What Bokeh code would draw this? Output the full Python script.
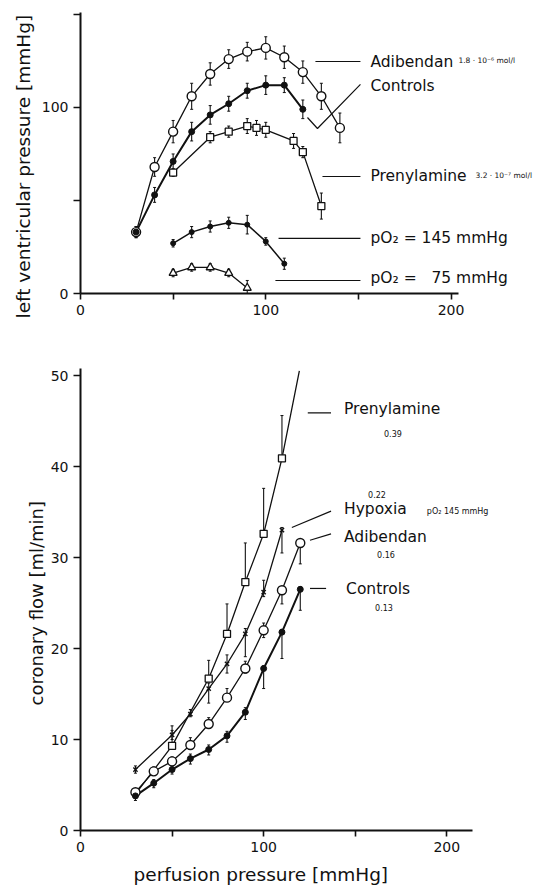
from bokeh.plotting import figure
from bokeh.layouts import column
from bokeh.models import Range1d, FixedTicker, Whisker, ColumnDataSource, TeeHead, Title
from bokeh.core.properties import value
from bokeh.embed import file_html
from bokeh.resources import INLINE

# ---------------- upper panel: left ventricular pressure ----------------
lvp_adib_x = [30, 40, 50, 60, 70, 80, 90, 100, 110, 120, 130, 140]
lvp_adib = [33, 68, 87, 106, 118, 126, 130, 132, 127, 119, 106, 89]
lvp_adib_err = [3, 5, 6, 7, 6, 5, 5, 6, 6, 6, 7, 8]

lvp_ctrl_x = [30, 40, 50, 60, 70, 80, 90, 100, 110, 120]
lvp_ctrl = [33, 53, 71, 87, 96, 102, 109, 112, 112, 99]
lvp_ctrl_err = [3, 4, 4, 5, 5, 4, 4, 5, 4, 5]

lvp_pren_x = [50, 70, 80, 90, 95, 100, 115, 120, 130]
lvp_pren = [65, 84, 87, 90, 89, 88, 82, 76, 47]
lvp_pren_err = [2, 3, 3, 4, 4, 4, 4, 3, 7]

lvp_po145_x = [50, 60, 70, 80, 90, 100, 110]
lvp_po145 = [27, 33, 36, 38, 37, 28, 16]
lvp_po145_err = [2, 3, 3, 3, 5, 2, 3]

lvp_po75_x = [50, 60, 70, 80, 90]
lvp_po75 = [11, 14, 14, 11, 3]
lvp_po75_err = [2, 2, 2, 2, 4]

# ---------------- lower panel: coronary flow ----------------
cf_ctrl_x = [30, 40, 50, 60, 70, 80, 90, 100, 110, 120]
cf_ctrl = [3.8, 5.2, 6.7, 7.9, 8.9, 10.4, 13.0, 17.8, 21.8, 26.5]
cf_ctrl_lo = [0.5, 0.5, 0.5, 0.6, 0.6, 0.7, 0.8, 2.2, 2.9, 2.3]
cf_ctrl_hi = [0.5, 0.4, 0.4, 0.5, 0.5, 0.5, 0.5, 0.3, 0.3, 0.3]

cf_adib_x = [30, 40, 50, 60, 70, 80, 90, 100, 110, 120]
cf_adib = [4.2, 6.5, 7.6, 9.4, 11.7, 14.6, 17.8, 22.0, 26.4, 31.6]
cf_adib_lo = [0.4, 0.3, 0.3, 0.3, 0.3, 0.3, 0.5, 0.8, 1.5, 2.3]
cf_adib_hi = [0.4, 0.5, 0.5, 0.8, 0.7, 1.0, 0.8, 0.8, 0.3, 0.3]

cf_pren_x = [50, 70, 80, 90, 100, 110]
cf_pren = [9.3, 16.7, 21.6, 27.3, 32.6, 40.9]
cf_pren_hi = [2.2, 2.0, 3.3, 4.3, 5.0, 4.7]
# fitted curve runs from the common starting point and on above the last measured point
cf_pren_curve_x = [30, 50, 70, 80, 90, 100, 110, 119.5]
cf_pren_curve = [4.0, 9.3, 16.7, 21.6, 27.3, 32.6, 40.9, 50.5]

cf_hyp_x = [30, 50, 60, 70, 80, 90, 100, 110]
cf_hyp = [6.7, 10.5, 12.8, 15.6, 18.3, 21.6, 26.2, 33.0]
cf_hyp_lo = [0.4, 0.5, 0.3, 1.6, 1.0, 2.5, 0.5, 2.5]
cf_hyp_hi = [0.4, 0.5, 0.5, 0.6, 1.0, 0.6, 1.3, 0.3]

x_ticks = [0, 50, 100, 150, 200]
x_tick_labels = {0: "0", 50: "", 100: "100", 150: "", 200: "200"}
lvp_ticks = [0, 50, 100, 150]
lvp_tick_labels = {0: "0", 50: "", 100: "100", 150: ""}
cf_ticks = [0, 10, 20, 30, 40, 50]

FONT = "DejaVu Sans"
FONT_V = value(FONT)
INK = "#111111"


def style_axes(p, xbounds, ybounds):
    for ax in (p.xaxis[0], p.yaxis[0]):
        ax.axis_line_width = 2
        ax.axis_line_color = INK
        ax.major_tick_line_width = 1.6
        ax.major_tick_line_color = INK
        ax.minor_tick_line_color = None
        ax.major_tick_in = 0
        ax.major_label_text_font = FONT
        ax.major_label_text_font_size = "14px"
        ax.major_label_text_color = INK
    p.xaxis[0].bounds = xbounds
    p.yaxis[0].bounds = ybounds
    p.xaxis[0].major_tick_out = 6
    p.yaxis[0].major_tick_out = 7
    p.xgrid.visible = False
    p.ygrid.visible = False
    p.outline_line_color = None
    p.background_fill_color = "white"
    p.border_fill_color = "white"


def axis_title(p, s, side, size, offset, standoff):
    # axis captions set as side titles so they can be slid along the axis
    p.add_layout(Title(text=s, align="left", offset=offset, standoff=standoff,
                       text_font=FONT, text_font_size=size, text_font_style="normal",
                       text_color=INK), side)


def errbars(p, xs, ys, lo, hi):
    src = ColumnDataSource(dict(x=xs, lower=[y - a for y, a in zip(ys, lo)],
                                upper=[y + b for y, b in zip(ys, hi)]))
    p.add_layout(Whisker(source=src, base="x", lower="lower", upper="upper",
                         line_color=INK, line_width=1.1,
                         lower_head=TeeHead(size=3, line_color=INK, line_width=1),
                         upper_head=TeeHead(size=3, line_color=INK, line_width=1)))


def text(p, x, y, s, size="15.5px", align="left"):
    p.text(x=[x], y=[y], text=[s], text_font=FONT_V, text_font_size=size,
           text_color=INK, text_align=align, text_baseline="middle")


# ---------- upper figure ----------
p1 = figure(width=558, height=330, x_range=Range1d(0, 258), y_range=Range1d(0, 154.8),
            output_backend="svg", toolbar_location=None,
            min_border_left=80, min_border_right=0, min_border_top=5, min_border_bottom=37)
p1.xaxis.ticker = FixedTicker(ticks=x_ticks)
p1.xaxis.major_label_overrides = x_tick_labels
p1.yaxis.ticker = FixedTicker(ticks=lvp_ticks)
p1.yaxis.major_label_overrides = lvp_tick_labels
style_axes(p1, (0, 204), (0, 151))
axis_title(p1, "left ventricular pressure [mmHg]", "left", "18.5px", -25, 9)

errbars(p1, lvp_adib_x, lvp_adib, lvp_adib_err, lvp_adib_err)
errbars(p1, lvp_ctrl_x, lvp_ctrl, lvp_ctrl_err, lvp_ctrl_err)
errbars(p1, lvp_pren_x, lvp_pren, lvp_pren_err, lvp_pren_err)
errbars(p1, lvp_po145_x, lvp_po145, lvp_po145_err, lvp_po145_err)
errbars(p1, lvp_po75_x, lvp_po75, lvp_po75_err, lvp_po75_err)

p1.line(lvp_adib_x, lvp_adib, line_color=INK, line_width=1.3)
p1.line(lvp_ctrl_x, lvp_ctrl, line_color=INK, line_width=2)
p1.line(lvp_pren_x, lvp_pren, line_color=INK, line_width=1.3)
p1.line(lvp_po145_x, lvp_po145, line_color=INK, line_width=1.5)
p1.line(lvp_po75_x, lvp_po75, line_color=INK, line_width=1.3)

p1.scatter(lvp_adib_x, lvp_adib, marker="circle", size=9, fill_color="white", line_color=INK, line_width=1.4)
p1.scatter(lvp_ctrl_x, lvp_ctrl, marker="circle", size=6, fill_color=INK, line_color=INK)
p1.scatter(lvp_pren_x, lvp_pren, marker="square", size=7, fill_color="white", line_color=INK, line_width=1.3)
p1.scatter(lvp_po145_x, lvp_po145, marker="circle", size=5, fill_color=INK, line_color=INK)
p1.scatter(lvp_po75_x, lvp_po75, marker="triangle", size=8, fill_color="white", line_color=INK, line_width=1.3)

# leader lines and curve labels
p1.line([126.8, 151.1], [124.7, 124.7], line_color=INK, line_width=1.2)
text(p1, 156.5, 124.7, "Adibendan")
text(p1, 204, 125.5, "1.8 · 10⁻⁶ mol/l", size="7.5px")
p1.line([122.5, 127.9, 151.1], [94.6, 88.7, 112.4], line_color=INK, line_width=1.2)
text(p1, 156.5, 111.3, "Controls")
p1.line([130.6, 151.1], [62.9, 62.9], line_color=INK, line_width=1.2)
text(p1, 156.5, 62.9, "Prenylamine")
text(p1, 213.2, 63.5, "3.2 · 10⁻⁷ mol/l", size="7.5px")
p1.line([106.9, 151.1], [29.6, 29.6], line_color=INK, line_width=1.2)
text(p1, 156.5, 29.6, "pO₂ = 145 mmHg")
p1.line([105.2, 151.1], [7.0, 7.0], line_color=INK, line_width=1.2)
text(p1, 156.5, 8.6, "pO₂ = \u200775 mmHg")

# ---------- lower figure ----------
p2 = figure(width=558, height=562, x_range=Range1d(0, 261), y_range=Range1d(0, 51.65),
            output_backend="svg", toolbar_location=None,
            min_border_left=79, min_border_right=0, min_border_top=30, min_border_bottom=62)
p2.xaxis.ticker = FixedTicker(ticks=x_ticks)
p2.xaxis.major_label_overrides = x_tick_labels
p2.yaxis.ticker = FixedTicker(ticks=cf_ticks)
style_axes(p2, (0, 214), (0, 50.8))
axis_title(p2, "perfusion pressure [mmHg]", "below", "18.5px", 53, 14)
axis_title(p2, "coronary flow [ml/min]", "left", "18px", 125, 2)

errbars(p2, cf_ctrl_x, cf_ctrl, cf_ctrl_lo, cf_ctrl_hi)
errbars(p2, cf_adib_x, cf_adib, cf_adib_lo, cf_adib_hi)
errbars(p2, cf_pren_x, cf_pren, [0] * len(cf_pren), cf_pren_hi)
errbars(p2, cf_hyp_x, cf_hyp, cf_hyp_lo, cf_hyp_hi)

p2.line(cf_pren_curve_x, cf_pren_curve, line_color=INK, line_width=1.3)
p2.line(cf_hyp_x, cf_hyp, line_color=INK, line_width=1.3)
p2.line(cf_adib_x, cf_adib, line_color=INK, line_width=1.3)
p2.line(cf_ctrl_x, cf_ctrl, line_color=INK, line_width=2)

p2.scatter(cf_hyp_x, cf_hyp, marker="x", size=6, line_color=INK, line_width=1.4)
p2.scatter(cf_pren_x, cf_pren, marker="square", size=7, fill_color="white", line_color=INK, line_width=1.3)
p2.scatter(cf_adib_x, cf_adib, marker="circle", size=9, fill_color="white", line_color=INK, line_width=1.4)
p2.scatter(cf_ctrl_x, cf_ctrl, marker="circle", size=6, fill_color=INK, line_color=INK)

p2.line([124.1, 136.8], [45.9, 45.9], line_color=INK, line_width=1.2)
text(p2, 143.9, 46.3, "Prenylamine")
text(p2, 170.6, 43.6, "0.39", size="8px", align="center")
text(p2, 161.9, 36.9, "0.22", size="8px", align="center")
p2.line([115.4, 136.8], [33.3, 35.1], line_color=INK, line_width=1.2)
text(p2, 143.9, 35.3, "Hypoxia")
text(p2, 189.1, 35.05, "pO₂ 145 mmHg", size="8px")
p2.line([125.3, 136.8], [31.9, 32.6], line_color=INK, line_width=1.2)
text(p2, 143.9, 32.2, "Adibendan")
text(p2, 166.8, 30.3, "0.16", size="8px", align="center")
p2.line([125.3, 134.1], [26.6, 26.6], line_color=INK, line_width=1.2)
text(p2, 145.0, 26.5, "Controls")
text(p2, 165.7, 24.5, "0.13", size="8px", align="center")

layout = column(p1, p2)
open("out.html", "w").write(file_html(layout, INLINE))
